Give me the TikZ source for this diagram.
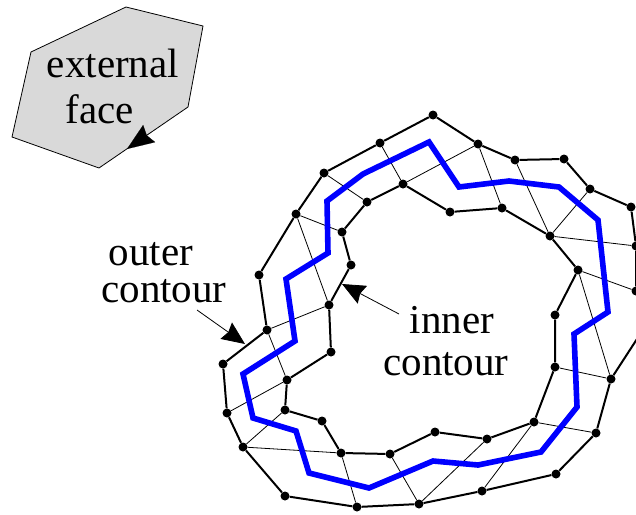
\documentclass[tikz,border=0pt]{standalone}
\usepackage{fontspec}
\setmainfont{Liberation Serif}
\usetikzlibrary{
    arrows.meta,
}
\definecolor{facegray}{HTML}{D9D9D9}
\definecolor{pathblue}{HTML}{0000FF}
\tikzset{
    % Basic node styles
    vertex/.style={circle, fill=black, minimum size=9pt, inner sep=0pt},
    lbl/.style={anchor=base, inner sep=0pt, font=\fontsize{41}{45}\selectfont},
    % Line styles
    contour/.style={line width=2pt},
    chord/.style={line width=0.8pt},
    midpath/.style={line width=5.6pt, pathblue, miter limit=10},
    pointer/.style={-{Stealth[length=23pt, width=20pt, inset=2.5pt]}, line width=0.8pt},
}

\begin{document}
\begin{tikzpicture}[x=1pt, y=-1pt]
    \clip (0,0) rectangle (636,514);

    % External face
    \draw[line width=0.8pt, fill=facegray] (126,7) -- (203,26) -- (188,107) -- (99,168) -- (12,137) -- (31,52) -- cycle;
    \coordinate (facetail) at (150,133);
    \coordinate (facetip) at (127,149);

    % Outer vertices
    \node[vertex] (o1) at (259,275) {};
    \node[vertex] (o2) at (296,214) {};
    \node[vertex] (o3) at (324,173) {};
    \node[vertex] (o4) at (380,143) {};
    \node[vertex] (o5) at (433,115) {};
    \node[vertex] (o6) at (478,144) {};
    \node[vertex] (o7) at (515,160) {};
    \node[vertex] (o8) at (564,159) {};
    \node[vertex] (o9) at (590,189) {};
    \node[vertex] (o10) at (631,207) {};
    \node[vertex] (o11) at (636,246) {};
    \node[vertex] (o12) at (636,291) {};
    \coordinate (o13) at (648,322);
    \node[vertex] (o14) at (611,379) {};
    \node[vertex] (o15) at (596,433) {};
    \node[vertex] (o16) at (556,474) {};
    \node[vertex] (o17) at (482,491) {};
    \node[vertex] (o18) at (419,504) {};
    \node[vertex] (o19) at (357,507) {};
    \node[vertex] (o20) at (285,496) {};
    \node[vertex] (o21) at (243,447) {};
    \node[vertex] (o22) at (227,413) {};
    \node[vertex] (o23) at (223,364) {};
    \node[vertex] (o24) at (267,330) {};

    % Inner vertices
    \node[vertex] (i1) at (329,305) {};
    \node[vertex] (i2) at (351,265) {};
    \node[vertex] (i3) at (342,232) {};
    \node[vertex] (i4) at (367,202) {};
    \node[vertex] (i5) at (403,184) {};
    \node[vertex] (i6) at (450,212) {};
    \node[vertex] (i7) at (502,208) {};
    \node[vertex] (i8) at (550,236) {};
    \node[vertex] (i9) at (578,270) {};
    \node[vertex] (i10) at (555,315) {};
    \node[vertex] (i11) at (555,367) {};
    \node[vertex] (i12) at (534,422) {};
    \node[vertex] (i13) at (487,439) {};
    \node[vertex] (i14) at (435,432) {};
    \node[vertex] (i15) at (390,454) {};
    \node[vertex] (i16) at (341,453) {};
    \node[vertex] (i17) at (322,421) {};
    \node[vertex] (i18) at (285,410) {};
    \node[vertex] (i19) at (287,380) {};
    \node[vertex] (i20) at (331,352) {};

    % Contours
    \draw[contour] (o1) -- (o2) -- (o3) -- (o4) -- (o5) -- (o6) -- (o7) -- (o8) -- (o9) -- (o10) -- (o11) -- (o12) -- (o13) -- (o14) -- (o15) -- (o16) -- (o17) -- (o18) -- (o19) -- (o20) -- (o21) -- (o22) -- (o23) -- (o24) -- (o1);
    \draw[contour] (i1) -- (i2) -- (i3) -- (i4) -- (i5) -- (i6) -- (i7) -- (i8) -- (i9) -- (i10) -- (i11) -- (i12) -- (i13) -- (i14) -- (i15) -- (i16) -- (i17) -- (i18) -- (i19) -- (i20) -- (i1);

    % Chords
    \draw[chord] (o2) -- (i3);
    \draw[chord] (o2) -- (i1);
    \draw[chord] (o3) -- (i4);
    \draw[chord] (o4) -- (i5);
    \draw[chord] (o6) -- (i5);
    \draw[chord] (o6) -- (i7);
    \draw[chord] (o7) -- (i8);
    \draw[chord] (o9) -- (i8);
    \draw[chord] (o11) -- (i8);
    \draw[chord] (o12) -- (i9);
    \draw[chord] (o14) -- (i9);
    \draw[chord] (o14) -- (i11);
    \draw[chord] (o15) -- (i12);
    \draw[chord] (o17) -- (i12);
    \draw[chord] (o18) -- (i13);
    \draw[chord] (o18) -- (i15);
    \draw[chord] (o19) -- (i16);
    \draw[chord] (o21) -- (i16);
    \draw[chord] (o21) -- (i18);
    \draw[chord] (o22) -- (i19);
    \draw[chord] (o24) -- (i19);
    \draw[chord] (o24) -- (i1);

    % Blue path
    \draw[midpath] (363,174) -- (327,201) -- (328,253) -- (286,279) -- (295,341) -- (243,374) -- (253,418) -- (296,431) -- (309,473) -- (369,488) -- (433,461) -- (478,465) -- (541,452) -- (577,407) -- (574,334) -- (608,312) -- (598,220) -- (559,187) -- (509,181) -- (459,187) -- (429,142) -- cycle;

    % Labels
    \node[lbl] (external) at (113,77) {external};
    \node[lbl] (face) at (100,123) {face};
    \node[lbl] (outer) at (151,265) {outer};
    \node[lbl] (outercontour) at (164,302) {contour};
    \node[lbl] (inner) at (452,333) {inner};
    \node[lbl] (innercontour) at (446,375) {contour};

    % Arrows
    \coordinate (outertail) at (197,310);
    \coordinate (outertip) at (245,344);
    \coordinate (innertail) at (399,314);
    \coordinate (innertip) at (342,284);
    \draw[pointer] (outertail) -- (outertip);
    \draw[pointer] (innertail) -- (innertip);
    \draw[-{Stealth[length=27pt, width=21pt, inset=3pt]}, line width=0.1pt] (facetail) -- (facetip);
\end{tikzpicture}
\end{document}
